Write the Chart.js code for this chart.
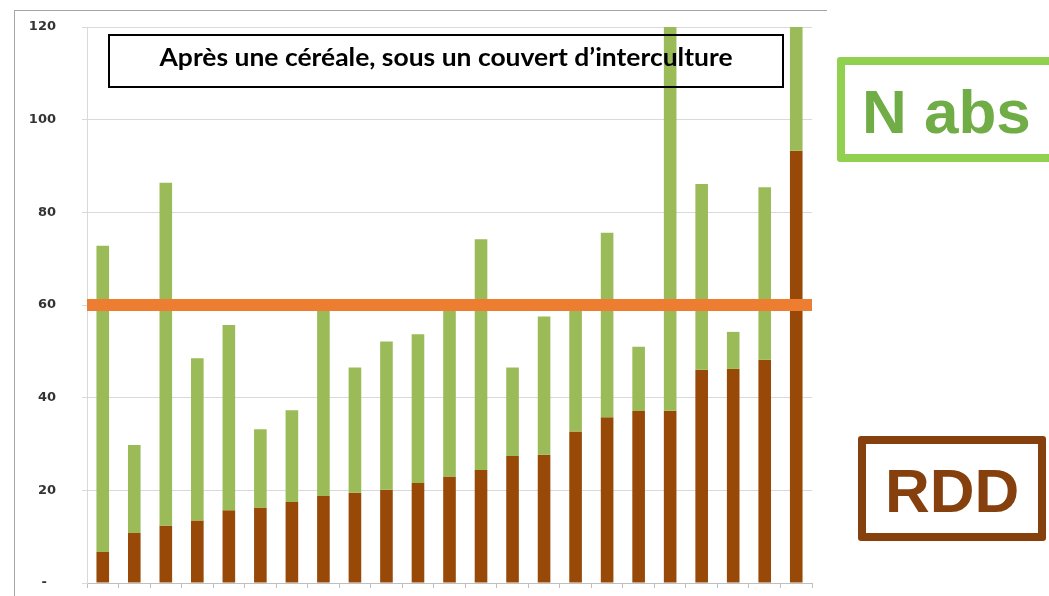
<!DOCTYPE html>
<html lang="fr">
<head>
<meta charset="utf-8">
<script src="https://cdn.jsdelivr.net/npm/chart.js@4/dist/chart.umd.min.js"></script>
<style>
    body { margin: 0; background: #fff; }
    #wrap { position: relative; width: 1049px; height: 596px; overflow: hidden; }
    #frame { position: absolute; left: 14px; top: 10px; width: 812px; height: 600px;
             border-top: 1px solid #a6a6a6; border-left: 1px solid #a6a6a6; }
    #titre { position: absolute; left: 108px; top: 34px; width: 672px; height: 50px;
             border: 2px solid #000; text-align: center; line-height: 50px; }
    #titre span { display: inline-block; font: bold 24px Lato, sans-serif; color: #000; transform-origin: center; }
    .tag { position: absolute; box-sizing: border-box; border-width: 8px; border-style: solid; border-radius: 3px; }
    .tagtxt { position: absolute; font: bold 62px "Liberation Sans", Arial, sans-serif; line-height: 62px; white-space: nowrap; }
</style>
</head>
<body>
<div id="wrap">
    <div id="frame"></div>
    <canvas id="chart" width="1049" height="596" style="position:absolute;left:0;top:0"></canvas>
    <div id="titre"><span id="titreTxt">Après une céréale, sous un couvert d’interculture</span></div>
    <div class="tag" style="left:837px;top:57px;width:240px;height:105px;border-color:#92d050"></div>
    <div class="tagtxt" style="left:862px;top:81px;color:#70ad47">N abs</div>
    <div class="tag" style="left:858px;top:436px;width:188px;height:105px;border-color:#85400e"></div>
    <div class="tagtxt" style="left:885px;top:460px;color:#85400e">RDD</div>
</div>
<script>
// parcelles (no visible labels on the axis)
const parcelles = ['1', '2', '3', '4', '5', '6', '7', '8', '9', '10', '11', '12',
                   '13', '14', '15', '16', '17', '18', '19', '20', '21', '22', '23'];
// RDD (brown part, bottom)
const rdd = [6.7, 10.8, 12.4, 13.5, 15.7, 16.3, 17.5, 18.8, 19.5, 20.1, 21.6, 23.0,
             24.4, 27.4, 27.7, 32.7, 35.8, 37.1, 37.2, 46.0, 46.2, 48.2, 93.3];
// N abs (top of green bar) - bars 19 and 23 go beyond 120
const nAbs = [72.8, 29.8, 86.4, 48.5, 55.7, 33.2, 37.3, 59.0, 46.5, 52.1, 53.7, 59.0,
              74.2, 46.5, 57.5, 59.0, 75.6, 51.0, 125, 86.1, 54.2, 85.4, 125];
const seuil = 60;
const yTicks = [0, 20, 40, 60, 80, 100, 120];

// stretch the title to the width it has in the original
const t = document.getElementById('titreTxt');
t.style.transform = 'scaleX(' + (573 / t.getBoundingClientRect().width) + ')';

const ctx = document.getElementById('chart').getContext('2d');
new Chart(ctx, {
    type: 'bar',
    data: {
        labels: parcelles,
        datasets: [
            { type: 'line', label: 'seuil', data: [{ x: 0, y: seuil }, { x: parcelles.length, y: seuil }],
              xAxisID: 'xLine', borderColor: '#ed7d31', borderWidth: 12, pointRadius: 0, order: 0 },
            { label: 'N abs', data: nAbs.map((v, i) => [rdd[i], v]), backgroundColor: '#9bbb59', order: 1 },
            { label: 'RDD', data: rdd, backgroundColor: '#984807', order: 2 }
        ]
    },
    options: {
        responsive: false,
        animation: false,
        devicePixelRatio: 1,
        layout: { autoPadding: false, padding: { left: 0, right: 237, top: 27, bottom: 8 } },
        plugins: { legend: { display: false }, tooltip: { enabled: false } },
        datasets: { bar: { barPercentage: 0.4, categoryPercentage: 1, grouped: false } },
        scales: {
            x: {
                ticks: { display: false },
                grid: { drawOnChartArea: false, tickLength: 5, color: '#bfbfbf' },
                border: { color: '#bfbfbf' },
                afterFit: s => { s.height = 5; }
            },
            // hidden axis so the threshold line spans the full plot width
            xLine: { type: 'linear', display: false, offset: false, min: 0, max: parcelles.length },
            y: {
                min: 0, max: 120,
                afterBuildTicks: s => { s.ticks = yTicks.map(v => ({ value: v })); },
                afterFit: s => { s.width = 87; s.paddingTop = 0; s.paddingBottom = 0; },
                ticks: {
                    padding: 26, color: '#333',
                    font: { family: 'DejaVu Sans', weight: 'bold', size: 13 },
                    callback: v => v === 0 ? '-  ' : String(v)
                },
                grid: { color: '#d9d9d9', tickLength: 5 },
                border: { color: '#d9d9d9' }
            }
        }
    }
});
</script>
</body>
</html>
